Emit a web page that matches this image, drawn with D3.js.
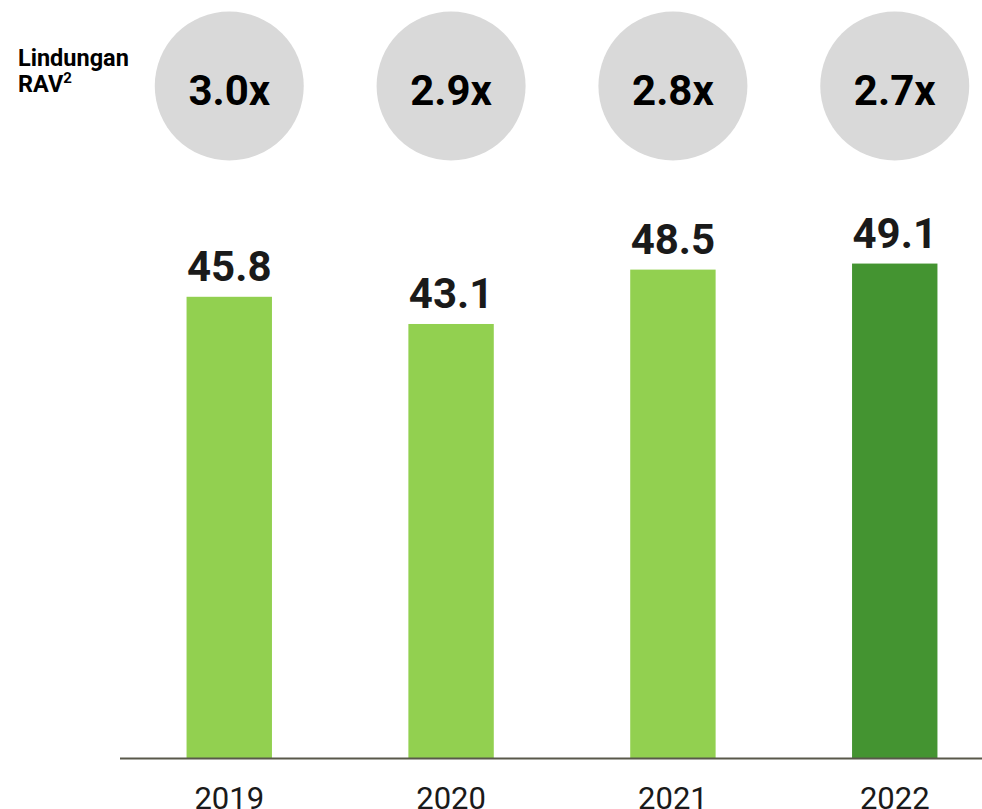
<!DOCTYPE html>
<html><head><meta charset="utf-8">
<script src="https://cdn.jsdelivr.net/npm/d3@7"></script>
<style>
html,body{margin:0;padding:0;background:#fff;}
svg{display:block;font-family:Roboto,"Liberation Sans",sans-serif;}
</style></head>
<body><svg id="c" width="982" height="809"></svg>
<script>
const years = ["2019","2020","2021","2022"];
const values = [45.8, 43.1, 48.5, 49.1];
const ratios = ["3.0x","2.9x","2.8x","2.7x"];
const highlight = [false,false,false,true];

const svg = d3.select("#c");
const baseY = 758;

const x = d3.scaleBand().domain(years).range([120, 1004]).paddingInner(0.615).paddingOuter(0.3);
const y = d3.scaleLinear().domain([0, 50]).range([baseY, baseY - 503.5]);

// circles
const cg = svg.append("g");
cg.selectAll("circle").data(years).join("circle")
  .attr("cx", d => x(d) + x.bandwidth()/2)
  .attr("cy", 86).attr("r", 74.5).attr("fill", "#d9d9d9");
cg.selectAll("text").data(years).join("text")
  .attr("x", d => x(d) + x.bandwidth()/2)
  .attr("y", 105).attr("text-anchor","middle")
  .attr("font-size", 42).attr("font-weight", 700).attr("fill","#000")
  .text((d,i) => ratios[i]);

// left label
const lab = svg.append("text").attr("font-size", 23.5).attr("font-weight", 700).attr("fill","#000");
lab.append("tspan").attr("x", 18).attr("y", 66).text("Lindungan");
lab.append("tspan").attr("x", 18).attr("y", 92).text("RAV");
lab.append("tspan").attr("font-size", 15).attr("dy", -9).text("2");

// bars
svg.append("g").selectAll("rect").data(years).join("rect")
  .attr("x", d => x(d)).attr("width", x.bandwidth())
  .attr("y", (d,i) => y(values[i]))
  .attr("height", (d,i) => baseY - y(values[i]))
  .attr("fill", (d,i) => highlight[i] ? "#449431" : "#92d050");

// value labels
svg.append("g").selectAll("text").data(years).join("text")
  .attr("x", d => x(d) + x.bandwidth()/2)
  .attr("y", (d,i) => y(values[i]) - 16)
  .attr("text-anchor","middle").attr("font-size", 42).attr("font-weight", 700)
  .attr("fill","#1a1a1a")
  .text((d,i) => values[i].toFixed(1));

// axis
const ax = svg.append("g").attr("transform", `translate(0,${baseY})`)
  .call(d3.axisBottom(x).tickSize(0).tickPadding(0));
ax.select(".domain").attr("d", `M120,0.5H982`).attr("stroke", "#59584a").attr("stroke-width", 2);
ax.selectAll(".tick text").attr("font-size", 31).attr("fill", "#1a1a1a")
  .attr("font-family", "Roboto, sans-serif").attr("dy", null).attr("y", 51);
</script></body></html>
